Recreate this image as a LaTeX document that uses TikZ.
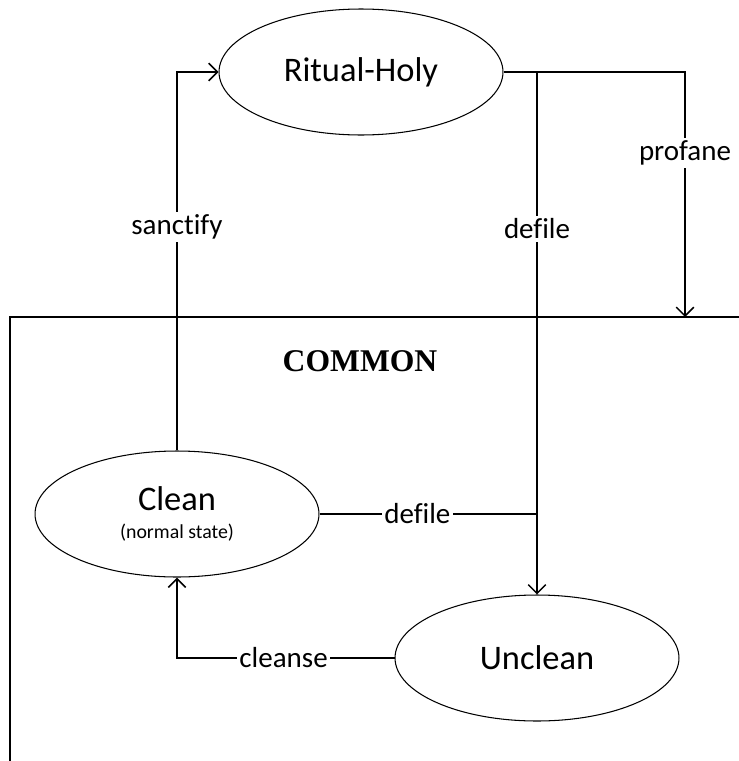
\documentclass[tikz,border=0pt]{standalone}
\usepackage{fontspec}
\setmainfont{Carlito}[Ligatures=NoCommon]
\newfontfamily\commonfont{Liberation Serif}
\usetikzlibrary{arrows.meta,positioning,calc,shapes.geometric}

\begin{document}
\begin{tikzpicture}[x=0.02cm,y=-0.02cm,
    state/.style={draw,ellipse,line width=0.6pt,inner sep=0pt,align=center,
                  minimum width=5.68cm,minimum height=2.52cm,
                  font=\fontsize{19.6}{22}\selectfont},
    lbl/.style={fill=white,inner sep=1.5pt,font=\fontsize{16.5}{19}\selectfont},
    link/.style={line width=0.9pt},
    arr/.style={link,-{Straight Barb[length=5pt,width=10pt]}},
  ]
  \useasboundingbox (0,0) rectangle (739,761);
  % common area
  \coordinate (fbl) at (10,761);
  \coordinate (ftl) at (10,317);
  \coordinate (ftr) at (739,317);
  \draw[link] (fbl) -- (ftl) -- (ftr);
  \node[font=\commonfont\bfseries\fontsize{18}{21}\selectfont] (common) at (360,361) {COMMON};
  % states
  \node[state] (holy)    at (361,72)  {Ritual-Holy};
  \node[state] (clean)   at (177,514) {Clean\\[-6.5pt]{\fontsize{11.3}{13}\selectfont (normal state)}};
  \node[state] (unclean) at (537,658) {Unclean};
  % bends
  \coordinate (sbend) at (clean.north |- holy.west);
  \coordinate (pend)  at (685,317);
  \coordinate (pbend) at (pend |- holy.east);
  \coordinate (dtop)  at (unclean.north |- holy.east);
  \coordinate (djoin) at (unclean.north |- clean.east);
  \coordinate (cbend) at (clean.south |- unclean.west);

  \draw[arr] (clean.north) -- node[lbl,pos=.59] (sanctifylbl) {sanctify} (sbend) -- (holy.west);
  \draw[arr] (holy.east) -- (pbend) -- node[lbl,pos=.33] (profanelbl) {profane} (pend);
  \draw[arr] (dtop) -- node[lbl,pos=.3] (defilelbl) {defile} (unclean.north);
  \draw[link] (clean.east) -- node[lbl,pos=.45] (defilelbl2) {defile} (djoin);
  \draw[arr] (unclean.west) -- node[lbl,pos=.51] (cleanselbl) {cleanse} (cbend) -- (clean.south);
\end{tikzpicture}
\end{document}
